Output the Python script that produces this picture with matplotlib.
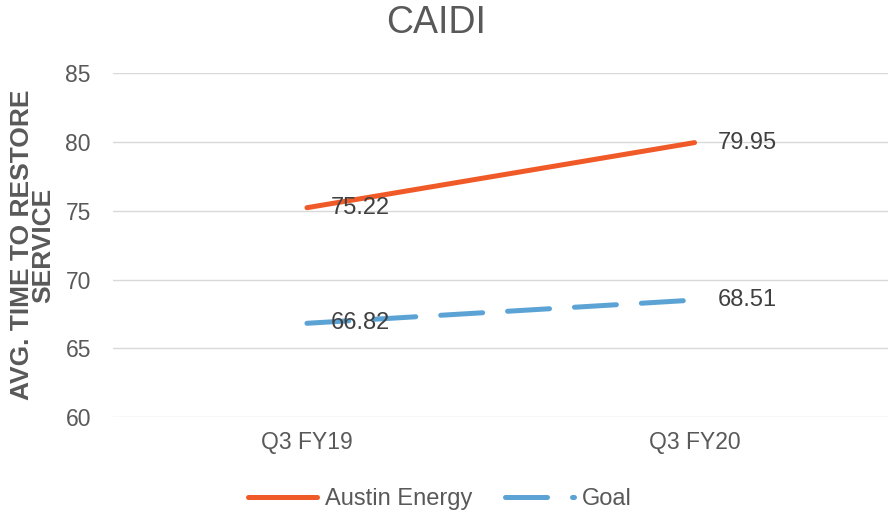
import matplotlib.pyplot as plt

# Chart data
categories = ['Q3 FY19', 'Q3 FY20']
austin_energy = [75.22, 79.95]
goal = [66.82, 68.51]
y_ticks = [60, 65, 70, 75, 80, 85]

plt.rcParams['font.family'] = ['Liberation Sans', 'DejaVu Sans']

text_col = '#595959'
label_col = '#404040'

fig = plt.figure(figsize=(8.91, 5.15), dpi=100)
ax = fig.add_axes([0.127, 0.19, 0.870, 0.668])

x = list(range(len(categories)))
ax.plot(x, austin_energy, color='#F05A28', linewidth=3.6, label='Austin Energy',
        solid_capstyle='round')
ax.plot(x, goal, color='#5BA3D5', linewidth=3.6, label='Goal',
        dashes=(8.4, 5), dash_capstyle='round')

# value labels to the right of each point
for series in (austin_energy, goal):
    for xi, v in zip(x, series):
        ax.annotate(f'{v:.2f}', (xi, v), xytext=(17, 0), textcoords='offset points',
                    va='center', ha='left', fontsize=17, color=label_col)

ax.set_xlim(-0.5, 1.5)
ax.set_ylim(60, 85)
ax.set_yticks(y_ticks)
ax.set_xticks(x)
ax.set_xticklabels(categories)
ax.yaxis.grid(True, color='#D9D9D9', linewidth=1)
ax.set_axisbelow(True)
for s in ax.spines.values():
    s.set_visible(False)
ax.tick_params(axis='both', length=0, labelsize=16.5, labelcolor=text_col)
ax.tick_params(axis='y', pad=16)
ax.tick_params(axis='x', pad=10)

fig.text(0.489, 1 - 33 / 515, 'CAIDI', fontsize=27, color=text_col,
         ha='center', va='baseline')
ax.set_ylabel('AVG. TIME TO RESTORE\nSERVICE', fontsize=19, fontweight='bold',
              color=text_col, linespacing=0.9, labelpad=7)

# handle a bit longer than one dash period so the next dash shows as a dot
fig.legend(loc='center', bbox_to_anchor=(0.494, 1 - 499 / 515), ncol=2, frameon=False,
           fontsize=17, labelcolor=text_col, handlelength=2.9, handletextpad=0.35,
           columnspacing=1.4)

fig.savefig('out.png', dpi=100)
